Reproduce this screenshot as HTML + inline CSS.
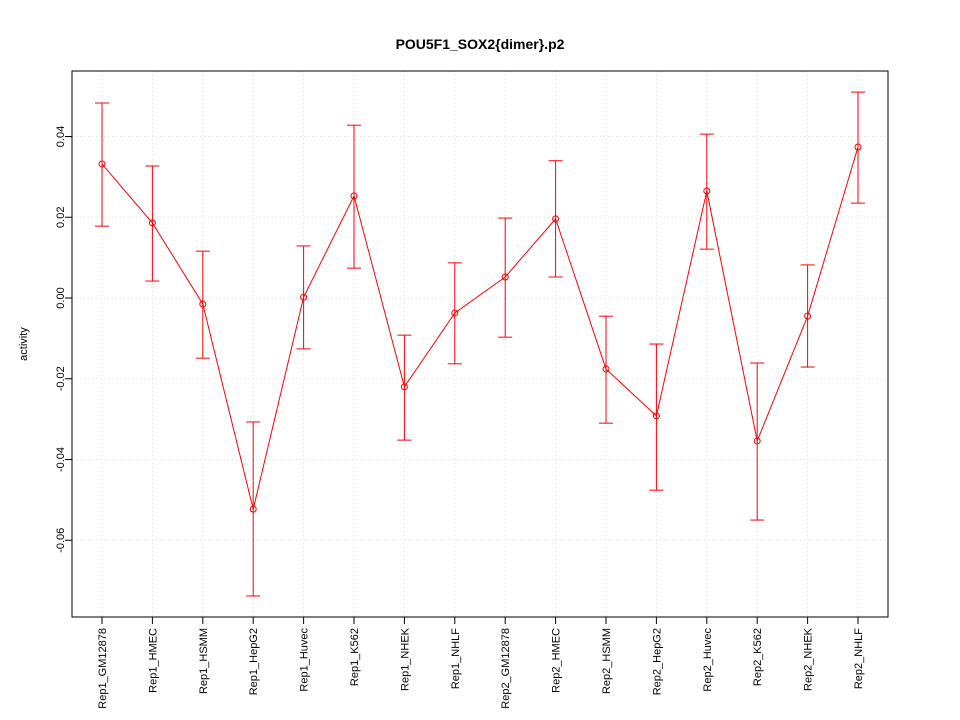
<!DOCTYPE html>
<html><head><meta charset="utf-8"><style>body{margin:0;background:#fff}svg{display:block;font-family:"Liberation Sans",Arial,sans-serif}</style></head>
<body>
<svg id="chart" width="960" height="720">
<rect width="960" height="720" fill="#fff"/>
<text x="480" y="49" text-anchor="middle" font-size="14" font-weight="bold">POU5F1_SOX2{dimer}.p2</text>
<text transform="translate(27,344) rotate(-90)" text-anchor="middle" font-size="11">activity</text>
<g id="grid"></g><g id="axes"></g><g id="marks"></g>
<rect x="72" y="71" width="816" height="546" fill="none" stroke="#000"/>
</svg>
<script>
const categories=["Rep1_GM12878","Rep1_HMEC","Rep1_HSMM","Rep1_HepG2","Rep1_Huvec","Rep1_K562","Rep1_NHEK","Rep1_NHLF","Rep2_GM12878","Rep2_HMEC","Rep2_HSMM","Rep2_HepG2","Rep2_Huvec","Rep2_K562","Rep2_NHEK","Rep2_NHLF"];
const values=[0.0332,0.0186,-0.0015,-0.0523,0.0002,0.0253,-0.022,-0.0037,0.0052,0.0196,-0.0176,-0.0292,0.0265,-0.0354,-0.0045,0.0374];
const upper=[0.0483,0.0327,0.0116,-0.0307,0.0129,0.0428,-0.0092,0.0087,0.0198,0.034,-0.0045,-0.0114,0.0406,-0.0161,0.0082,0.051];
const lower=[0.0178,0.0042,-0.0149,-0.0738,-0.0126,0.0074,-0.0352,-0.0163,-0.0097,0.0052,-0.031,-0.0476,0.0121,-0.055,-0.0171,0.0235];
const yTicks=[-0.06,-0.04,-0.02,0.00,0.02,0.04];
const yTickLabels=["-0.06","-0.04","-0.02","0.00","0.02","0.04"];
const NS="http://www.w3.org/2000/svg";
const x=i=>102+i*(756/(categories.length-1));
const y=v=>298-v*4037.5;
function mk(p,t,a){const e=document.createElementNS(NS,t);for(const k in a)e.setAttribute(k,a[k]);document.getElementById(p).appendChild(e);return e;}
yTicks.forEach((t,i)=>{
 let g=mk("grid","line",{x1:72,x2:888,y1:y(t),y2:y(t),stroke:"#e0e0e0","stroke-dasharray":"1,3"});
 
 
 let tk=mk("axes","line",{x1:65,x2:72,y1:y(t),y2:y(t),stroke:"#000"});
 
 
 let l=mk("axes","text",{transform:`translate(64,${y(t)}) rotate(-90)`,"text-anchor":"middle","font-size":"11"});
 l.textContent=yTickLabels[i];
 
 
});
categories.forEach((c,i)=>{
 let g=mk("grid","line",{x1:x(i),x2:x(i),y1:71,y2:617,stroke:"#e0e0e0","stroke-dasharray":"1,3"});
 
 
 let tk=mk("axes","line",{x1:x(i),x2:x(i),y1:617,y2:624,stroke:"#000"});
 
 
 let l=mk("axes","text",{transform:`translate(${x(i)+4},628) rotate(-90)`,"text-anchor":"end","font-size":"11"});
 l.textContent=c;
 
 
});
const line=mk("marks","polyline",{points:values.map((v,i)=>x(i)+","+y(v)).join(" "),fill:"none",stroke:"#f00"});


values.forEach((v,i)=>{
 let b=mk("marks","line",{x1:x(i),x2:x(i),y1:y(upper[i]),y2:y(lower[i]),stroke:"#f00"});
 
 
 [upper[i],lower[i]].forEach(e=>{
  let c=mk("marks","line",{x1:x(i)-7,x2:x(i)+7,y1:y(e),y2:y(e),stroke:"#f00"});
  
  
 });
 let p=mk("marks","circle",{cx:x(i),cy:y(v),r:3,fill:"none",stroke:"#f00"});
 
 
});
</script>
</body></html>
